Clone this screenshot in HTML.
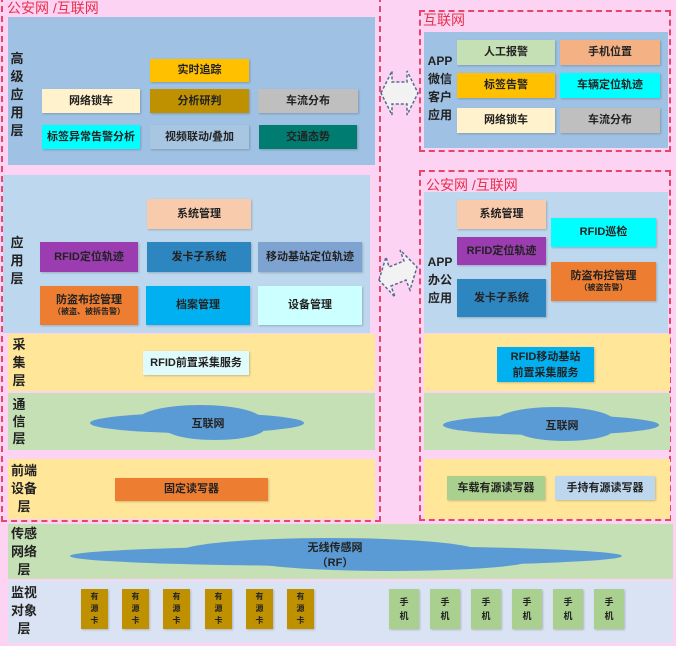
<!DOCTYPE html>
<html><head><meta charset="utf-8"><style>
*{margin:0;padding:0;box-sizing:border-box}
body{width:676px;height:646px;background:#fcd3f3;position:relative;overflow:hidden;font-family:"Liberation Sans","Noto Sans CJK SC",sans-serif;font-weight:bold;color:#222}
div{position:absolute}
.b{display:flex;align-items:center;justify-content:center;text-align:center;font-size:11px;line-height:13px;box-shadow:1px 1px 2px rgba(0,0,0,.2)}
.lbl{font-size:13px;line-height:18px;color:#222;text-align:center}
.dash{border:2px dashed #e8456a}
.red{color:#e8304a;font-weight:normal;font-size:14px}
.s{font-size:8px;line-height:10px}
.k{width:27px;height:40px;top:589px;background:#bf9000;font-size:8px;line-height:12px}
.m{width:30px;height:40px;top:589px;background:#a9d08e;font-size:9px;line-height:14px}
</style></head><body>
<div class="dash" style="left:1px;top:-4px;width:380px;height:526px"></div>
<div class="red" style="left:7px;top:-2px">公安网 /互联网</div>

<div style="left:8px;top:17px;width:367px;height:148px;background:#9fc1e3"></div>
<div class="lbl" style="left:10px;top:50px;width:14px">高级应用层</div>
<div class="b" style="left:150px;top:59px;width:99px;height:23px;background:#ffc000">实时追踪</div>
<div class="b" style="left:42px;top:89px;width:98px;height:24px;background:#fff2cc">网络锁车</div>
<div class="b" style="left:150px;top:89px;width:99px;height:24px;background:#bf9000">分析研判</div>
<div class="b" style="left:258px;top:89px;width:100px;height:24px;background:#bfbfbf">车流分布</div>
<div class="b" style="left:42px;top:125px;width:98px;height:24px;background:#00ffff">标签异常告警分析</div>
<div class="b" style="left:150px;top:125px;width:99px;height:24px;background:#a8c6e2">视频联动/叠加</div>
<div class="b" style="left:259px;top:125px;width:98px;height:24px;background:#007d70">交通态势</div>

<div style="left:3px;top:175px;width:367px;height:158px;background:#bdd7ee"></div>
<div class="lbl" style="left:10px;top:234px;width:14px">应用层</div>
<div class="b" style="left:147px;top:199px;width:104px;height:30px;background:#f8cbad">系统管理</div>
<div class="b" style="left:40px;top:242px;width:98px;height:30px;background:#9b3db0">RFID定位轨迹</div>
<div class="b" style="left:147px;top:242px;width:104px;height:30px;background:#2e86c1">发卡子系统</div>
<div class="b" style="left:258px;top:242px;width:104px;height:30px;background:#7fa3d0">移动基站定位轨迹</div>
<div class="b" style="left:40px;top:286px;width:98px;height:39px;background:#ed7d31;flex-direction:column">防盗布控管理<span class="s">（被盗、被拆告警）</span></div>
<div class="b" style="left:146px;top:286px;width:104px;height:39px;background:#00b0f0">档案管理</div>
<div class="b" style="left:258px;top:286px;width:104px;height:39px;background:#ccffff">设备管理</div>

<div style="left:8px;top:334px;width:367px;height:57px;background:#ffe699"></div>
<div class="lbl" style="left:12px;top:336px;width:14px">采集层</div>
<div class="b" style="left:143px;top:351px;width:106px;height:24px;background:#e0fbfb">RFID前置采集服务</div>
<div style="left:8px;top:393px;width:367px;height:57px;background:#c5e0b4"></div>
<div class="lbl" style="left:12px;top:396px;width:14px;line-height:17px">通信层</div>
<div style="left:8px;top:459px;width:367px;height:60px;background:#ffe699"></div>
<div class="lbl" style="left:10px;top:462px;width:28px">前端设备层</div>
<div class="b" style="left:115px;top:478px;width:153px;height:23px;background:#ed7d31">固定读写器</div>

<div class="dash" style="left:419px;top:10px;width:252px;height:142px"></div>
<div class="red" style="left:423px;top:10px">互联网</div>
<div style="left:424px;top:32px;width:244px;height:116px;background:#9fc1e3"></div>
<div class="lbl" style="left:425px;top:52px;width:30px;font-size:12px">APP微信客户应用</div>
<div class="b" style="left:457px;top:40px;width:98px;height:25px;background:#c5e0b4">人工报警</div>
<div class="b" style="left:560px;top:40px;width:100px;height:25px;background:#f4b183">手机位置</div>
<div class="b" style="left:457px;top:73px;width:98px;height:25px;background:#ffc000">标签告警</div>
<div class="b" style="left:560px;top:73px;width:100px;height:25px;background:#00ffff">车辆定位轨迹</div>
<div class="b" style="left:457px;top:108px;width:98px;height:25px;background:#fff2cc">网络锁车</div>
<div class="b" style="left:560px;top:108px;width:100px;height:25px;background:#bfbfbf">车流分布</div>

<div class="dash" style="left:419px;top:170px;width:252px;height:351px"></div>
<div class="red" style="left:426px;top:175px">公安网 /互联网</div>
<div style="left:424px;top:192px;width:244px;height:141px;background:#bdd7ee"></div>
<div class="lbl" style="left:425px;top:253px;width:30px;font-size:12px">APP办公应用</div>
<div class="b" style="left:457px;top:200px;width:89px;height:29px;background:#f8cbad">系统管理</div>
<div class="b" style="left:457px;top:237px;width:89px;height:28px;background:#9b3db0">RFID定位轨迹</div>
<div class="b" style="left:457px;top:279px;width:89px;height:38px;background:#2e86c1">发卡子系统</div>
<div class="b" style="left:551px;top:218px;width:105px;height:29px;background:#00ffff">RFID巡检</div>
<div class="b" style="left:551px;top:262px;width:105px;height:39px;background:#ed7d31;flex-direction:column">防盗布控管理<span class="s">（被盗告警）</span></div>
<div style="left:424px;top:334px;width:246px;height:57px;background:#ffe699"></div>
<div class="b" style="left:497px;top:347px;width:97px;height:35px;background:#00b0f0;flex-direction:column;line-height:16px">RFID移动基站<span>前置采集服务</span></div>
<div style="left:424px;top:393px;width:246px;height:57px;background:#c5e0b4"></div>
<div style="left:424px;top:459px;width:246px;height:60px;background:#ffe699"></div>
<div class="b" style="left:447px;top:476px;width:98px;height:24px;background:#a9d08e">车载有源读写器</div>
<div class="b" style="left:555px;top:476px;width:100px;height:24px;background:#bdd7ee">手持有源读写器</div>

<div style="left:8px;top:524px;width:665px;height:55px;background:#c5e0b4"></div>
<div class="lbl" style="left:10px;top:525px;width:28px">传感网络层</div>
<div style="left:8px;top:581px;width:665px;height:62px;background:#dae3f3"></div>
<div class="lbl" style="left:10px;top:584px;width:28px">监视对象层</div>

<svg width="676" height="646" style="position:absolute;left:0;top:0">
<g fill="#5b9bd5">
<ellipse cx="197" cy="423" rx="107" ry="10"/><ellipse cx="200" cy="420" rx="62" ry="15"/><ellipse cx="215" cy="428" rx="50" ry="12"/>
<ellipse cx="551" cy="425" rx="108" ry="10"/><ellipse cx="555" cy="422" rx="60" ry="15"/><ellipse cx="565" cy="430" rx="48" ry="11"/>
<ellipse cx="346" cy="556" rx="276" ry="10"/><ellipse cx="330" cy="552" rx="150" ry="14"/><ellipse cx="390" cy="560" rx="140" ry="11"/>
</g>
<g font-family="Liberation Sans,Noto Sans CJK SC,sans-serif" font-weight="bold" font-size="11" fill="#222" text-anchor="middle">
<text x="208" y="427">互联网</text><text x="562" y="429">互联网</text>
<text x="335" y="551">无线传感网</text><text x="335" y="566">（RF）</text>
</g>
<g fill="#f2f2f2" stroke="#5a6a90" stroke-width="1.5" stroke-dasharray="3,2">
<polygon points="381,93 392,71 392,82 407,82 407,71 418,93 407,115 407,104 392,104 392,115"/>
<polygon points="379,280 386,257 389,267 404,261 400,250 417,267 410,290 406,280 391,286 395,297" />
</g>
</svg>

<div class="b k" style="left:81px">有<br>源<br>卡</div>
<div class="b k" style="left:122px">有<br>源<br>卡</div>
<div class="b k" style="left:163px">有<br>源<br>卡</div>
<div class="b k" style="left:205px">有<br>源<br>卡</div>
<div class="b k" style="left:246px">有<br>源<br>卡</div>
<div class="b k" style="left:287px">有<br>源<br>卡</div>
<div class="b m" style="left:389px">手<br>机</div>
<div class="b m" style="left:430px">手<br>机</div>
<div class="b m" style="left:471px">手<br>机</div>
<div class="b m" style="left:512px">手<br>机</div>
<div class="b m" style="left:553px">手<br>机</div>
<div class="b m" style="left:594px">手<br>机</div>
</body></html>
